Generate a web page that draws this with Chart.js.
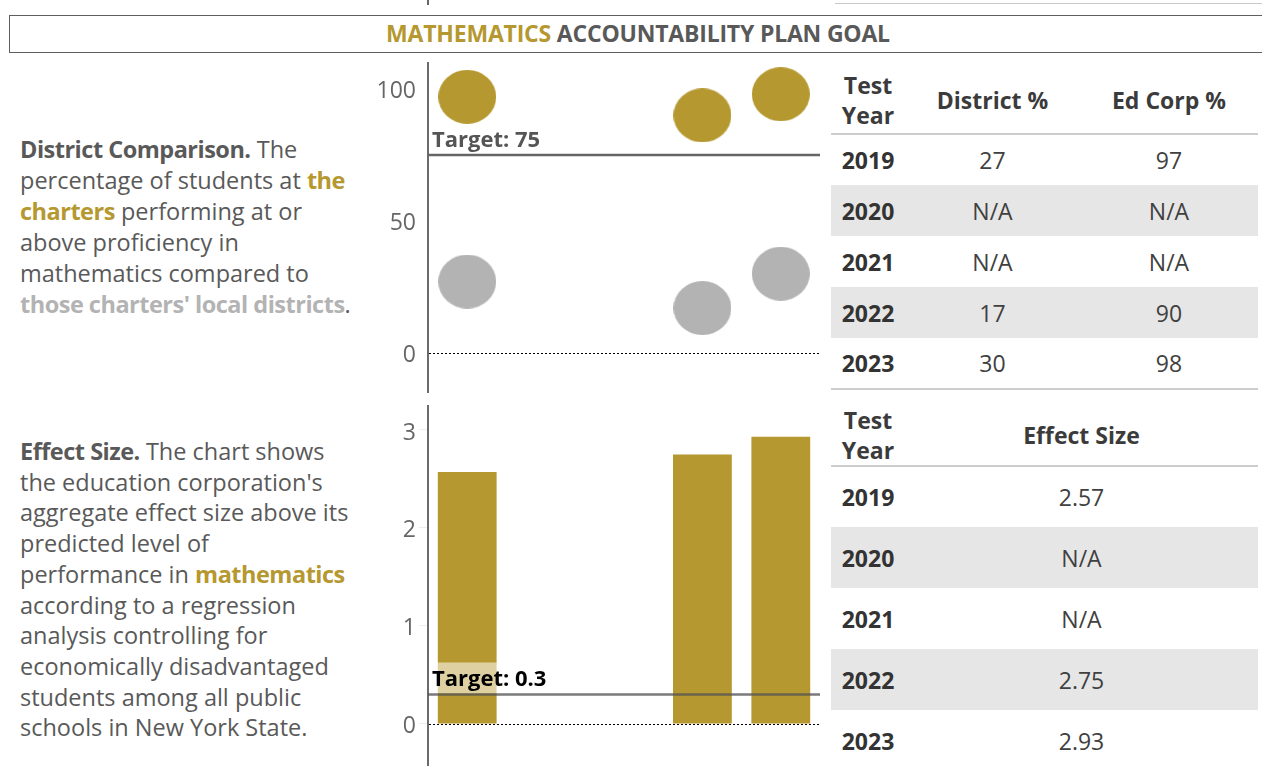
<!DOCTYPE html>
<html>
<head>
<meta charset="utf-8">
<script src="https://cdn.jsdelivr.net/npm/chart.js@4.4.0/dist/chart.umd.min.js"></script>
<style>
  html, body { margin:0; padding:0; background:#fff; }
  body { width:1262px; height:766px; overflow:hidden; position:relative; font-family: "Open Sans", Lato, sans-serif; color:#595959; }
  .abs { position:absolute; }
  #header { left:9px; top:15px; width:1260px; height:38px; border:1.5px solid #5f5f5f; border-right:none; box-sizing:border-box; }
  #title { position:absolute; left:0; width:1256px; top:0; height:35px; line-height:35px; text-align:center; font-weight:bold; font-size:23px; color:#595959; letter-spacing:-0.2px; }
  .gold { color:#B5982F; font-weight:bold; }
  .lgray { color:#B3B3B3; font-weight:bold; }
  .desc { font-size:23.5px; line-height:31px; white-space:nowrap; }
  .desc b, .desc .gold, .desc .lgray { letter-spacing:-0.5px; }
  table { border-collapse:collapse; table-layout:fixed; position:absolute; }
  td, th { padding:0; text-align:center; font-size:23px; }
  th { font-weight:bold; color:#3b3b3b; line-height:30px; }
  td.yr { font-weight:bold; color:#333; }
  td.val { color:#404040; }
  tr.head th { border-bottom:2px solid #cdcdcd; }
  tr.shade td { background:#E6E6E6; }
</style>
</head>
<body>
<!-- remnants of the previous panel -->
<div class="abs" style="left:427px;top:0;width:2px;height:5px;background:#666;"></div>
<div class="abs" style="left:835px;top:3px;width:427px;height:1px;background:#c8c8c8;"></div>

<div id="header" class="abs"><div id="title"><span class="gold">MATHEMATICS</span> ACCOUNTABILITY PLAN GOAL</div></div>

<div class="abs desc" style="left:20px;top:134px;">
<b>District Comparison.</b> The<br>
percentage of students at <span class="gold">the</span><br>
<span class="gold">charters</span> performing at or<br>
above proficiency in<br>
mathematics compared to<br>
<span class="lgray">those charters' local districts</span>.
</div>

<div class="abs desc" style="left:20px;top:436px;line-height:30.7px;">
<b>Effect Size.</b> The chart shows<br>
the education corporation's<br>
aggregate effect size above its<br>
predicted level of<br>
performance in <span class="gold">mathematics</span><br>
according to a regression<br>
analysis controlling for<br>
economically disadvantaged<br>
students among all public<br>
schools in New York State.
</div>

<canvas id="c1" class="abs" style="left:360px;top:62px;" width="460" height="331"></canvas>
<canvas id="c2" class="abs" style="left:360px;top:405px;" width="460" height="361"></canvas>

<table id="t1" style="left:831px;top:66px;width:427px;"></table>
<table id="t2" style="left:831px;top:405px;width:427px;"></table>

<script>
// ---- data ----
const years = ['2019', '2020', '2021', '2022', '2023'];
const edCorpPct = [97, null, null, 90, 98];
const districtPct = [27, null, null, 17, 30];
const effectSize = [2.57, null, null, 2.75, 2.93];
const pctTicks = [0, 50, 100];
const effectTicks = [0, 1, 2, 3];
const pctTarget = 75;
const effectTarget = 0.3;
const effectLabels = ['2.57', 'N/A', 'N/A', '2.75', '2.93'];

const GOLD = '#B5982F';
const GRAY = '#B3B3B3';
const FONT = 'Open Sans';

// ---- tables ----
function fmt(v) { return v === null ? 'N/A' : String(v); }
function buildTable(id, headHTML, rowsHTML, headH, rowH, colW) {
  const t = document.getElementById(id);
  let h = '<colgroup>' + colW.map(w => '<col style="width:' + w + 'px">').join('') + '</colgroup>';
  h += '<tr class="head" style="height:' + headH + 'px">' + headHTML + '</tr>';
  rowsHTML.forEach((r, i) => {
    h += '<tr class="' + (i % 2 === 1 ? 'shade' : '') + '" style="height:' + rowH + 'px">' + r + '</tr>';
  });
  t.innerHTML = h;
}
buildTable('t1',
  '<th>Test<br>Year</th><th>District %</th><th>Ed Corp %</th>',
  years.map((y, i) => '<td class="yr">' + y + '</td><td class="val">' + fmt(districtPct[i]) + '</td><td class="val">' + fmt(edCorpPct[i]) + '</td>'),
  68, 51, [74, 175, 178]);
buildTable('t2',
  '<th>Test<br>Year</th><th>Effect Size</th>',
  years.map((y, i) => '<td class="yr">' + y + '</td><td class="val">' + effectLabels[i] + '</td>'),
  61, 61, [74, 353]);
document.querySelector('#t1').style.borderBottom = '2px solid #cdcdcd';

// ---- elliptical bubble markers ----
function ellipseMarker(color) {
  const c = document.createElement('canvas');
  c.width = 58; c.height = 54;
  const g = c.getContext('2d');
  g.fillStyle = color;
  g.beginPath(); g.ellipse(29, 27, 29, 27, 0, 0, Math.PI * 2); g.fill();
  return c;
}

// ---- charts ----
function refLinesPlugin(target, label, labelColor, withBox) {
  return {
    id: 'refLines',
    afterDatasetsDraw(chart) {
      const { ctx, chartArea: a, scales: { y } } = chart;
      ctx.save();
      const y0 = Math.round(y.getPixelForValue(0)) + 0.5;
      ctx.strokeStyle = '#000';
      ctx.lineWidth = 1;
      ctx.setLineDash([2, 2]);
      ctx.beginPath(); ctx.moveTo(a.left + 1, y0); ctx.lineTo(a.right, y0); ctx.stroke();
      ctx.setLineDash([]);
      const yt = y.getPixelForValue(target);
      ctx.font = 'bold 22px "' + FONT + '"';
      const tw = ctx.measureText(label).width;
      if (withBox) {
        ctx.fillStyle = 'rgba(255,255,255,0.55)';
        ctx.fillRect(a.left + 1, yt - 32, tw + 10, 31);
      }
      ctx.strokeStyle = withBox ? 'rgba(85,85,85,0.78)' : '#666';
      ctx.lineWidth = 2.5;
      ctx.beginPath(); ctx.moveTo(a.left, yt); ctx.lineTo(a.right, yt); ctx.stroke();
      ctx.fillStyle = labelColor;
      ctx.textBaseline = 'alphabetic';
      ctx.fillText(label, a.left + 4, yt - 8);
      ctx.restore();
    }
  };
}

function yScale(min, max, ticksArr, tickMarks) {
  return {
    min: min, max: max,
    afterBuildTicks: s => { s.ticks = ticksArr.map(v => ({ value: v })); },
    afterFit: s => { s.width = 68; s.paddingTop = 0; s.paddingBottom = 0; },
    grid: { display: tickMarks, drawOnChartArea: false, drawTicks: tickMarks, tickLength: 9, color: '#eeeeee' },
    border: { display: true, color: '#6b6b6b', width: 2 },
    ticks: { color: '#666', font: { family: FONT, size: 23 }, padding: tickMarks ? 3 : 12, labelOffset: 3 }
  };
}

function makeCharts() {
  Chart.defaults.font.family = FONT;
  new Chart(document.getElementById('c1'), {
    type: 'line',
    data: {
      labels: years,
      datasets: [
        { label: 'Ed Corp %', data: edCorpPct, showLine: false, pointStyle: ellipseMarker(GOLD),
          pointRadius: 28, pointBackgroundColor: GOLD, pointBorderWidth: 0, borderColor: GOLD, clip: false },
        { label: 'District %', data: districtPct, showLine: false, pointStyle: ellipseMarker(GRAY),
          pointRadius: 28, pointBackgroundColor: GRAY, pointBorderWidth: 0, borderColor: GRAY, clip: false }
      ]
    },
    options: {
      responsive: false, animation: false,
      layout: { padding: 0, autoPadding: false },
      plugins: { legend: { display: false }, tooltip: { enabled: false } },
      scales: {
        x: { type: 'category', offset: true, display: false },
        y: yScale(-15.2, 110.2, pctTicks, false)
      }
    },
    plugins: [refLinesPlugin(pctTarget, 'Target: ' + pctTarget, '#555', false)]
  });

  new Chart(document.getElementById('c2'), {
    type: 'bar',
    data: {
      labels: years,
      datasets: [
        { label: 'Effect Size', data: effectSize, backgroundColor: GOLD, borderWidth: 0,
          barPercentage: 0.75, categoryPercentage: 1.0 }
      ]
    },
    options: {
      responsive: false, animation: false,
      layout: { padding: 0, autoPadding: false },
      plugins: { legend: { display: false }, tooltip: { enabled: false } },
      scales: {
        x: { type: 'category', offset: true, display: false },
        y: yScale(-0.43, 3.255, effectTicks, true)
      }
    },
    plugins: [refLinesPlugin(effectTarget, 'Target: ' + effectTarget, '#000', true)]
  });
}

Promise.all([document.fonts.load('bold 22px "Open Sans"'), document.fonts.load('22px "Open Sans"')])
  .then(makeCharts, makeCharts);
</script>
</body>
</html>
